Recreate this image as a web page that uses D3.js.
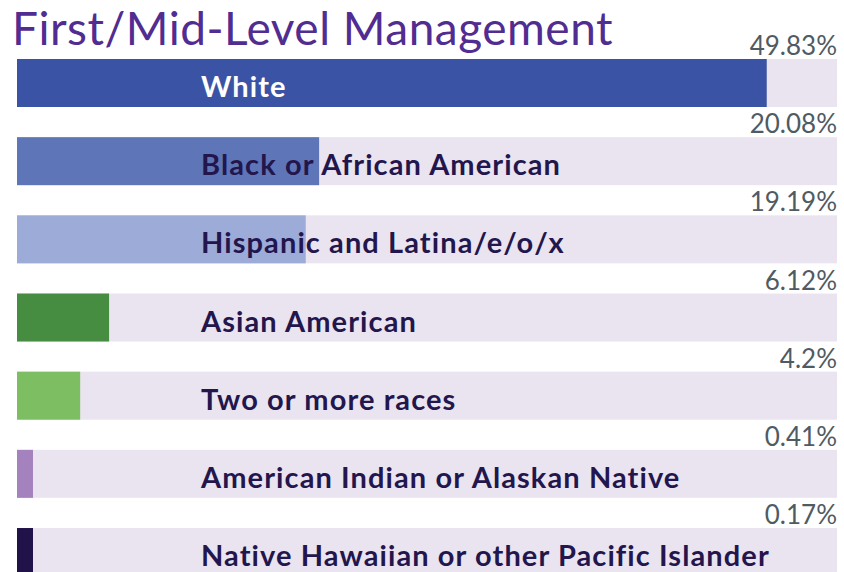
<!DOCTYPE html>
<html lang="en">
<head>
    <meta charset="UTF-8">
    <title>First/Mid-Level Management</title>
    <script type="text/javascript" src="https://cdn.jsdelivr.net/npm/d3@7/dist/d3.min.js"></script>
    <style>
        body { margin: 0; background: #fff; }
        text { font-family: Lato, "Open Sans", sans-serif; }
    </style>
</head>
<body>
<script type="text/javascript">
    // data
    let categories = ['White', 'Black or African American', 'Hispanic and Latina/e/o/x',
        'Asian American', 'Two or more races', 'American Indian or Alaskan Native',
        'Native Hawaiian or other Pacific Islander'];
    let values = [49.83, 20.08, 19.19, 6.12, 4.2, 0.41, 0.17];
    let valueLabels = ['49.83%', '20.08%', '19.19%', '6.12%', '4.2%', '0.41%', '0.17%'];
    let colors = ['#3a53a4', '#5e75b8', '#9dabd8', '#468c41', '#7dbe62', '#a382be', '#22124a'];

    let width = 844;
    let height = 572;

    let svg = d3.select('body')
        .append('svg')
        .attr('width', width)
        .attr('height', height);

    // title
    svg.append('text')
        .attr('x', 12)
        .attr('y', 45)
        .attr('fill', '#512c91')
        .attr('font-size', 46)
        .attr('letter-spacing', 0.5)
        .text('First/Mid-Level Management');

    let left = 17, right = 837;

    // x scale: full track is a bit wider than the largest share
    let x = d3.scaleLinear()
        .domain([0, 54.5])
        .range([0, right - left]);

    let rowH = 48;
    let rowStep = 78.17;
    let minW = 16;

    let rows = svg.selectAll('g.row')
        .data(categories)
        .enter()
        .append('g')
        .attr('class', 'row')
        .attr('transform', function (d, i) {
            return 'translate(0,' + (59 + i * rowStep) + ')';
        });

    // background track
    rows.append('rect')
        .attr('x', left)
        .attr('y', 0)
        .attr('width', right - left)
        .attr('height', rowH)
        .attr('fill', '#eae4f0');

    // value bar
    rows.append('rect')
        .attr('x', left)
        .attr('y', 0)
        .attr('width', function (d, i) {
            return Math.max(x(values[i]), minW);
        })
        .attr('height', rowH)
        .attr('fill', function (d, i) {
            return colors[i];
        });

    // category label
    rows.append('text')
        .attr('x', 201)
        .attr('y', 38)
        .attr('font-size', 29)
        .attr('font-weight', 'bold')
        .attr('letter-spacing', 1.1)
        .attr('fill', function (d, i) {
            return i === 0 ? '#ffffff' : '#23164d';
        })
        .text(function (d) { return d; });

    // percentage label
    rows.append('text')
        .attr('x', right)
        .attr('y', -4)
        .attr('text-anchor', 'end')
        .attr('font-size', 26)
        .attr('fill', '#4f5b62')
        .text(function (d, i) { return valueLabels[i]; });
</script>
</body>
</html>
